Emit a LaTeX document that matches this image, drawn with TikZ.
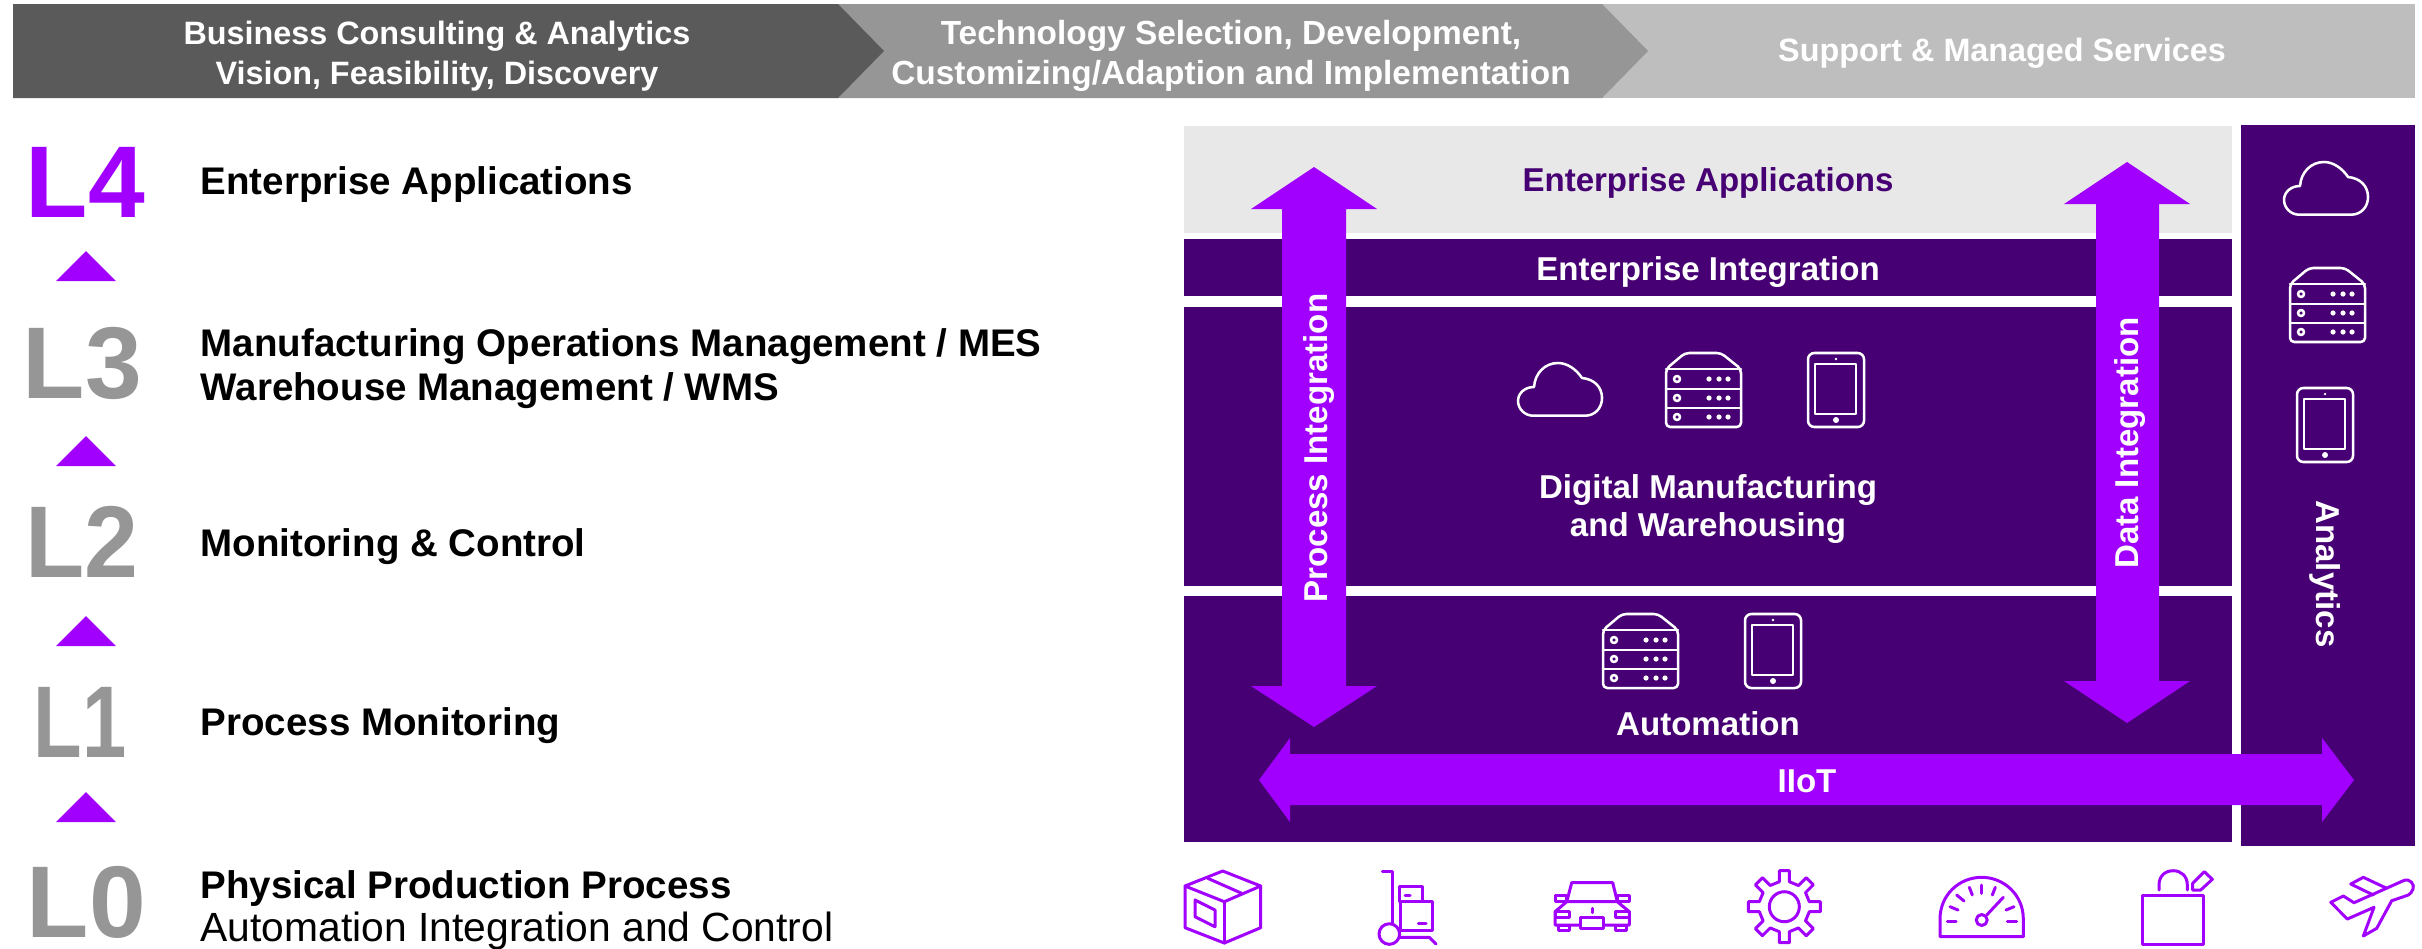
\documentclass[tikz,border=0pt]{standalone}
\usepackage{fontspec}
\setmainfont{Liberation Sans}
\definecolor{deep}{HTML}{460073}
\definecolor{bright}{HTML}{A100FF}
\definecolor{stepa}{HTML}{5A5A5A}
\definecolor{stepb}{HTML}{969696}
\definecolor{stepc}{HTML}{BEBEBE}
\definecolor{pale}{HTML}{E8E8E8}
\definecolor{lvl}{HTML}{969696}
\tikzset{
  head/.style={text=white, font=\bfseries\fontsize{9.2}{11.3}\selectfont, align=center, inner sep=0pt},
  headw/.style={text=white, font=\bfseries\fontsize{9.5}{11.3}\selectfont, align=center, inner sep=0pt},
  item/.style={text=black, font=\bfseries\fontsize{10.95}{12}\selectfont, anchor=base west, inner sep=0pt},
  itemr/.style={text=black, font=\fontsize{11.6}{12}\selectfont, anchor=base west, inner sep=0pt},
  lev/.style={text=lvl, font=\bfseries\fontsize{29}{30}\selectfont, anchor=base west, inner sep=0pt},
  lab/.style={text=white, font=\bfseries\fontsize{9.4}{10.6}\selectfont, align=center, inner sep=0pt},
  band/.style={fill=deep},
  big/.style={fill=bright},
  iconw/.style={draw=white, line width=0.72pt, line cap=round, line join=round},
  iconp/.style={draw=bright, line width=0.85pt, line cap=round, line join=round},
  cloudicon/.pic={
    \draw[iconw] (15,52.7)--(67,52.7) .. controls (77,52.7) and (84,45) .. (84,35)
      .. controls (84,24) and (76,16) .. (64,15) .. controls (58,6) and (49,0) .. (40,0)
      .. controls (27,0) and (17,10) .. (16,24) .. controls (7,24) and (0,30) .. (0,38)
      .. controls (0,46) and (7,52.7) .. (15,52.7);
  },
  servericon/.pic={
    \draw[iconw,rounded corners=1.2pt] (0,16)--(19,0)--(55,0)--(75,16)--(75,74)--(0,74)--cycle;
    \foreach \y in {16,36,55}{\draw[iconw] (0,\y)--(75,\y);}
    \foreach \y in {26,45,64}{
      \draw[iconw] (11,\y) circle[radius=3];
      \foreach \x in {43,53,62}{\fill[white] (\x,\y) circle[radius=2.6];}
    }
  },
  tableticon/.pic={
    \draw[iconw,rounded corners=1.8pt] (0,0) rectangle (56,74);
    \draw[iconw] (7,11) rectangle (48,61);
    \fill[white] (28,6) circle[radius=1.3];
    \fill[white] (28,67) circle[radius=3];
  },
}
\begin{document}
\begin{tikzpicture}[x=0.01cm,y=-0.01cm]
  \useasboundingbox (0,0) rectangle (2422,948);

  % top steps, drawn from the right
  \fill[stepc] (1602,4)--(2415,4)--(2415,98)--(1602,98)--cycle;
  \fill[stepb] (838,4)--(1602,4)--(1648,51)--(1602,98)--(838,98)--cycle;
  \fill[stepa] (13,4)--(838,4)--(884,51)--(838,98)--(13,98)--cycle;
  \node[head] (stepone) at (437,56) {Business Consulting \& Analytics\\Vision, Feasibility, Discovery};
  \node[headw] (steptwo) at (1231,56) {Technology Selection, Development,\\Customizing/Adaption and Implementation};
  \node[head] (stepthree) at (2002,53) {Support \& Managed Services};

  % levels
  \node[lev,text=bright] (lfour) at (25,217) {L4};
  \node[lev] (lthree) at (22,398) {L3};
  \node[lev,xscale=0.95,transform shape] (ltwo) at (25,577) {L2};
  \node[lev,xscale=0.78,transform shape] (lone) at (33,757) {L1};
  \node[lev] (lzero) at (26,937) {L0};
  \foreach \i/\a in {1/251,2/436,3/616,4/792}{
    \fill[bright] (56,\a+30)--(86,\a)--(116,\a+30)--cycle;
  }
  \node[item] (tfour) at (200,194) {Enterprise Applications};
  \node[item] (tthree) at (200,356) {Manufacturing Operations Management / MES};
  \node[item] (tthreeb) at (200,400) {Warehouse Management / WMS};
  \node[item] (ttwo) at (200,556) {Monitoring \& Control};
  \node[item] (tone) at (200,735) {Process Monitoring};
  \node[item] (tzero) at (200,898) {Physical Production Process};
  \node[itemr] (tzerob) at (200,941) {Automation Integration and Control};

  % stack on the right
  \fill[pale] (1184,126) rectangle (2232,233);
  \fill[band] (1184,239) rectangle (2232,296);
  \fill[band] (1184,307) rectangle (2232,586);
  \fill[band] (1184,596) rectangle (2232,842);
  \fill[band] (2241,125) rectangle (2415,846);

  % three big arrows
  \fill[big] (1314,167)--(1377,209)--(1346,209)--(1346,686)--(1377,686)--(1314,727)
    --(1251,686)--(1282,686)--(1282,209)--(1251,209)--cycle;
  \fill[big] (2127,162)--(2190,204)--(2159,204)--(2159,681)--(2190,681)--(2127,723)
    --(2064,681)--(2096,681)--(2096,204)--(2064,204)--cycle;
  \fill[big] (1259,780)--(1290,738)--(1290,754)--(2322,754)--(2322,738)--(2354,780)
    --(2322,822)--(2322,805)--(1290,805)--(1290,822)--cycle;

  \node[lab,text=deep,anchor=base] (appl) at (1708,191) {Enterprise Applications};
  \node[lab,anchor=base] (integ) at (1708,280) {Enterprise Integration};
  \node[lab] (digi) at (1708,509) {Digital Manufacturing\\and Warehousing};
  \node[lab,anchor=base] (auto) at (1708,735) {Automation};
  \node[lab,anchor=base] (iiot) at (1807,792) {IIoT};
  \node[lab,anchor=base,rotate=90] (procint) at (1327,448) {Process Integration};
  \node[lab,anchor=base,rotate=90] (dataint) at (2138,443) {Data Integration};
  \node[lab,anchor=base,rotate=-90] (analyt) at (2316,574) {Analytics};

  % white icons
  \pic (cloudd) at (1518,363) {cloudicon};
  \pic (serverd) at (1666,353) {servericon};
  \pic (tabletd) at (1808,353) {tableticon};
  \pic (servera) at (1603,614) {servericon};
  \pic (tableta) at (1745,614) {tableticon};
  \pic (cloudr) at (2284,162) {cloudicon};
  \pic (serverr) at (2290,268) {servericon};
  \pic (tabletr) at (2297,388) {tableticon};

  % box
  \draw[iconp] (1185,886)--(1222.7,871)--(1260.7,886)--(1260.7,927.7)--(1224.3,943)--(1185,927.7)--cycle;
  \draw[iconp] (1185,886)--(1224.3,901.7)--(1260.7,886);
  \draw[iconp] (1224.3,901.7)--(1224.3,943);
  \draw[iconp] (1207.7,878.3)--(1241.7,893.3);
  \draw[iconp] (1195,900)--(1215,910)--(1215,926.7)--(1195,916.7)--cycle;
  % hand truck
  \draw[iconp] (1382.3,871)--(1392.7,871)--(1392.7,923);
  \draw[iconp] (1389.3,934) circle[radius=10.3];
  \draw[iconp] (1399.3,901.7)--(1399.3,886)--(1422.7,886)--(1422.7,901.7);
  \draw[iconp] (1400,901.7)--(1432.7,901.7)--(1432.7,930.7)--(1400,930.7)--cycle;
  \draw[iconp] (1405,895.7)--(1410,895.7);
  \draw[iconp] (1418.3,923.3)--(1426,923.3);
  \draw[iconp] (1400,937.3)--(1429.3,937.3)--(1436,944);
  % car
  \draw[iconp] (1566.7,901.7)--(1571.7,882.7)--(1612.7,882.7)--(1617.3,901.7);
  \draw[iconp] (1555,895.7) rectangle (1566.7,901.7);
  \draw[iconp] (1617.3,895.7) rectangle (1629.3,901.7);
  \draw[iconp] (1566.7,901.7)--(1617.3,901.7)--(1629.3,911.7)--(1629.3,925)--(1555,925)--(1555,911.7)--cycle;
  \draw[iconp] (1555,911.7) rectangle (1569,917.3);
  \draw[iconp] (1615,911.7) rectangle (1629.3,917.3);
  \draw[iconp,fill=white] (1580.7,917.3) rectangle (1603.3,928.3);
  \draw[iconp] (1592,908.3)--(1592,912.7);
  \draw[iconp] (1558.3,925) rectangle (1569,930.7);
  \draw[iconp] (1615,925) rectangle (1626,930.7);
  % gear
  \draw[iconp] (1784.3,906.7) circle[radius=15];
  \foreach \a in {0,45,...,315}{
    \begin{scope}[shift={(1784.3,906.7)},rotate=\a]
      \draw[iconp] (-5,-25)--(-5,-36)--(5,-36)--(5,-25)--(14.1,-21.2);
    \end{scope}
  }
  % gauge
  \draw[iconp] (1940,919)--(1940,936.7)--(2023.3,936.7)--(2023.3,919)
    .. controls (2023.3,895) and (2004,877.3) .. (1981.7,877.3)
    .. controls (1959,877.3) and (1940,895) .. (1940,919);
  \draw[iconp] (1981.7,920) circle[radius=5.5];
  \draw[iconp] (1986.7,915)--(2003.3,897.3);
  \foreach \xa/\ya/\xb/\yb in {1981.7/885/1981.7/893.3,1969.3/887.3/1972.3/895,1995.3/887.3/1992.3/895,
    1956.7/895/1964/901,1950/906.7/1958/910,2014/906.7/2006/910,1947.3/921.3/1956/921.3,2007.3/921.3/2016.7/921.3}{
    \draw[iconp] (\xa,\ya)--(\xb,\yb);
  }
  % bag
  \draw[iconp] (2142.3,895.7) rectangle (2203.3,944);
  \draw[iconp] (2159,890)--(2159,885) .. controls (2159,876) and (2165,870.7) .. (2173.2,870.7)
    .. controls (2181,870.7) and (2187.3,876) .. (2187.3,885)--(2187.3,890);
  \draw[iconp] (2192.7,890)--(2192.7,883.3)--(2204.3,871.7)--(2212.3,879.3)--(2200.7,890)--cycle;
  % plane
  \draw[iconp] (2330.7,902.3)--(2343.3,896)--(2354,902.7)--(2403.3,880.7)
    .. controls (2410,877.5) and (2415,885) .. (2413,889) .. controls (2412,892) and (2410,894) .. (2408.3,895)
    --(2391.7,900.7)--(2376.7,928.3)--(2363.3,936)--(2374,907.3)--(2347.3,919)--cycle;
  \draw[iconp] (2373.3,895)--(2350.7,884)--(2363.3,877.3)--(2386.7,888.3);
\end{tikzpicture}
\end{document}
